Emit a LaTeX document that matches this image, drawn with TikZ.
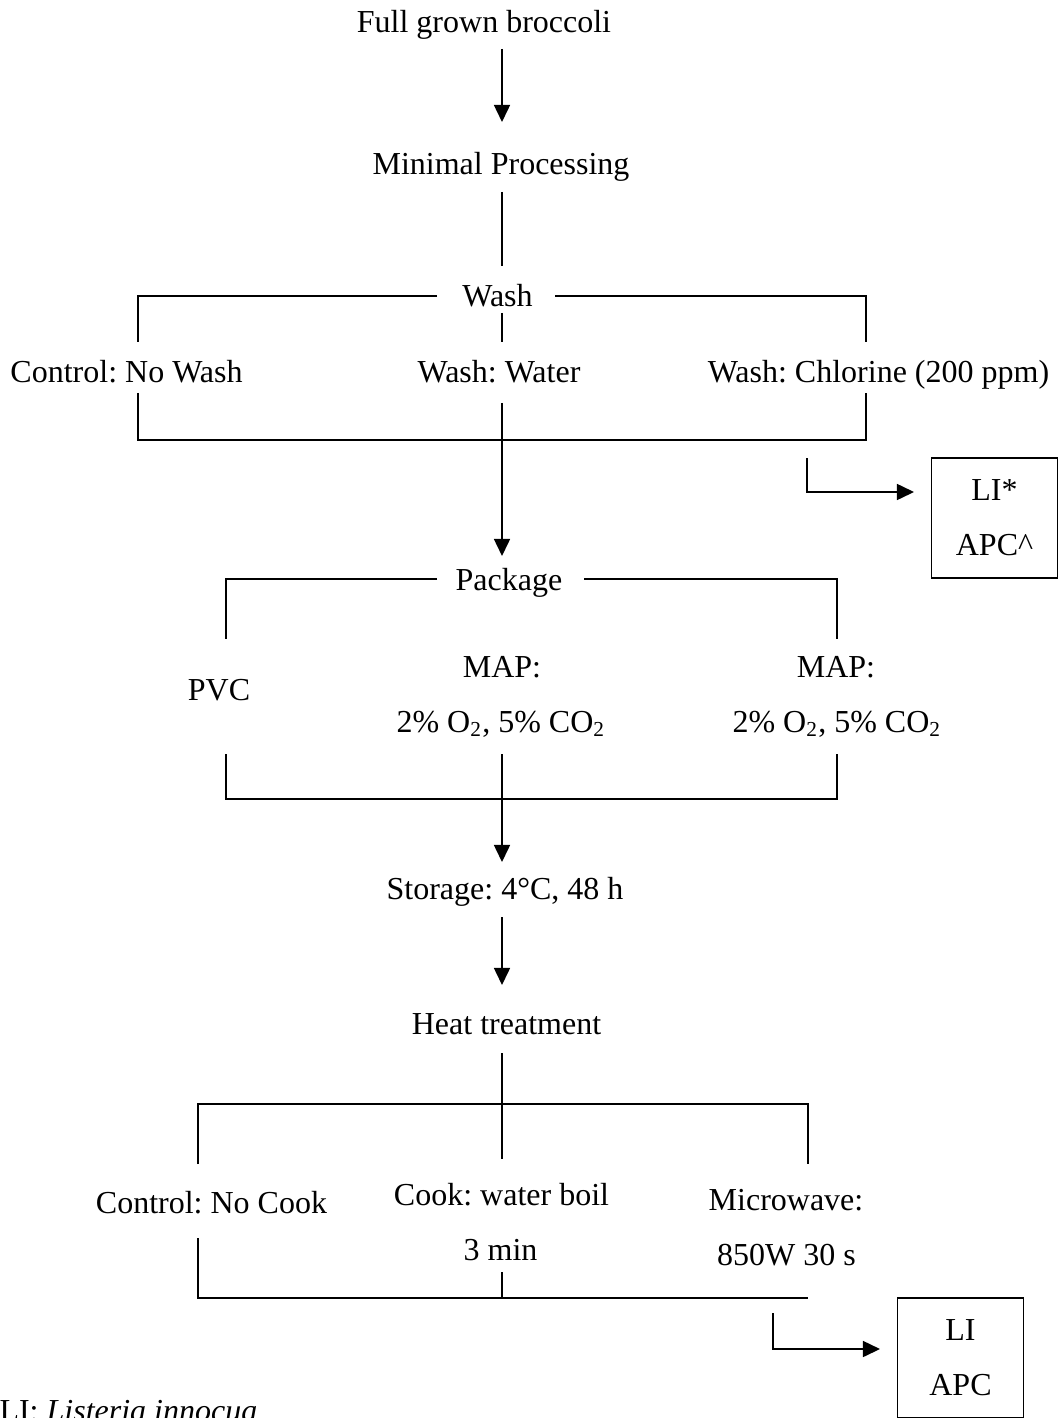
\documentclass[tikz,border=0pt]{standalone}
\usepackage{fontspec}
\setmainfont{Liberation Serif}
\frenchspacing
\usetikzlibrary{arrows.meta}
\tikzstyle{arrow} = [line width=0.65pt,-{Triangle[length=6.4pt,width=6pt]}]
\tikzstyle{conn} = [line width=0.65pt]
\tikzstyle{txt} = [anchor=base, inner sep=0pt, font=\fontsize{12}{14}\selectfont]
\tikzstyle{resbox} = [draw, line width=0.65pt, minimum width=47.25pt, minimum height=45pt, inner sep=0pt, align=center, font=\fontsize{12}{20.6}\selectfont]

\begin{document}
\begin{tikzpicture}[x=0.375pt,y=-0.375pt]
    \useasboundingbox (0,0) rectangle (1058,1418);
    \clip (0,0) rectangle (1058,1418);

    % Main steps
    \node[txt] (broccoli) at (484,33) {Full grown broccoli};
    \node[txt] (minimal) at (501,175) {Minimal Processing};
    \node[txt] (wash) at (497.5,307) {Wash};
    \node[txt] (package) at (509,590) {Package};
    \node[txt] (storage) at (505,899) {Storage: 4°C, 48 h};
    \node[txt] (heat) at (506.5,1034) {Heat treatment};

    % Wash treatments
    \node[txt] (nowash) at (126.5,382) {Control: No Wash};
    \node[txt] (water) at (499,382) {Wash: Water};
    \node[txt] (chlorine) at (878.5,382) {Wash: Chlorine (200 ppm)};

    % Packages
    \node[txt] (pvc) at (219,700) {PVC};
    \node[txt] (mapA) at (502,677) {MAP:};
    \node[txt] (gasA) at (501,732) {2\% O\textsubscript{2}, 5\% CO\textsubscript{2}};
    \node[txt] (mapB) at (836,677) {MAP:};
    \node[txt] (gasB) at (837,732) {2\% O\textsubscript{2}, 5\% CO\textsubscript{2}};

    % Heat treatments
    \node[txt] (nocook) at (211.5,1213) {Control: No Cook};
    \node[txt] (boil) at (501.5,1205) {Cook: water boil};
    \node[txt] (boilt) at (500.5,1260) {3 min};
    \node[txt] (micro) at (786,1210) {Microwave:};
    \node[txt] (microt) at (786.5,1265) {850W 30 s};

    % Results
    \node[resbox] (res1) at (994.5,518) {LI*\\APC\textasciicircum};
    \node[resbox] (res2) at (960.5,1358) {LI\\APC};
    \node[txt, anchor=base west] (note) at (-1,1421) {LI: \textit{Listeria innocua}};

    % Junctions
    \foreach \n/\x/\y in {a1s/502/49, a1e/502/122, m1/502/192, m2/502/266,
        wl/437/296, wlc/138/296, wld/138/342, wr/555/296, wrc/866/296, wrd/866/342,
        wc1/502/313, wc2/502/342, bl/138/393, blc/138/440, brc/866/440, br/866/393,
        bc/502/403, a2e/502/556, s1/807/458, s1c/807/492, s1e/914/492,
        pl/437/579, plc/226/579, pld/226/639, pr/584/579, prc/837/579, prd/837/639,
        ql/226/754, qlc/226/799, qrc/837/799, qr/837/754, qc/502/754, a3e/502/862,
        a4s/502/917, a4e/502/985, h1/502/1053, h2/502/1159,
        hl/198/1164, hlc/198/1104, hrc/808/1104, hr/808/1164,
        kl/198/1238, klc/198/1298, krc/808/1298, kc/502/1272, kj/502/1298,
        s2/773/1313, s2c/773/1349, s2e/880/1349} {
        \coordinate (\n) at (\x,\y);
    }

    % Connectors
    \draw[arrow] (a1s) -- (a1e);
    \draw[conn] (m1) -- (m2);
    \draw[conn] (wl) -- (wlc) -- (wld);
    \draw[conn] (wr) -- (wrc) -- (wrd);
    \draw[conn] (wc1) -- (wc2);
    \draw[conn] (bl) -- (blc) -- (brc) -- (br);
    \draw[arrow] (bc) -- (a2e);
    \draw[arrow] (s1) -- (s1c) -- (s1e);
    \draw[conn] (pl) -- (plc) -- (pld);
    \draw[conn] (pr) -- (prc) -- (prd);
    \draw[conn] (ql) -- (qlc) -- (qrc) -- (qr);
    \draw[arrow] (qc) -- (a3e);
    \draw[arrow] (a4s) -- (a4e);
    \draw[conn] (h1) -- (h2);
    \draw[conn] (hl) -- (hlc) -- (hrc) -- (hr);
    \draw[conn] (kl) -- (klc) -- (krc);
    \draw[conn] (kc) -- (kj);
    \draw[arrow] (s2) -- (s2c) -- (s2e);
\end{tikzpicture}
\end{document}
